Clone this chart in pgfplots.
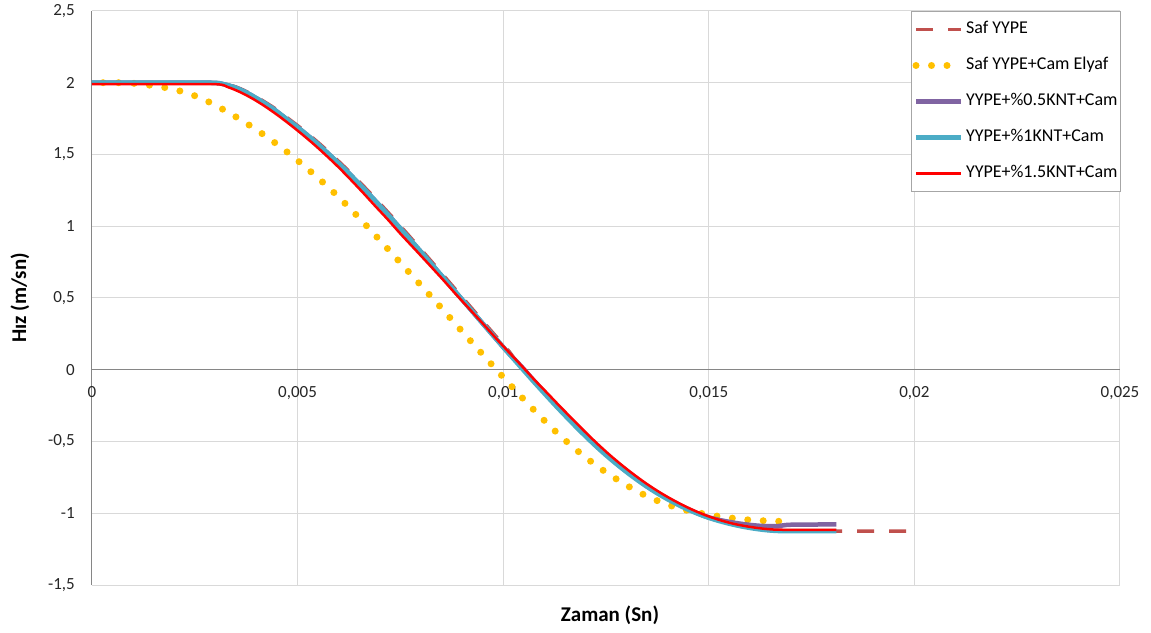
\documentclass[border=0pt]{standalone}
\usepackage{pgfplots}
\pgfplotsset{compat=1.18}
\usepackage{fontspec}
\setmainfont{Carlito}
\usetikzlibrary{calc}

\definecolor{cDash}{HTML}{C0504D}
\definecolor{cGold}{HTML}{FFC000}
\definecolor{cPurple}{HTML}{8064A2}
\definecolor{cBlue}{HTML}{4BACC6}
\definecolor{cRed}{HTML}{FF0000}
\definecolor{cGrid}{HTML}{D9D9D9}
\definecolor{cAxis}{HTML}{868686}
\definecolor{cFrame}{HTML}{A6A6A6}

% velocity (m/s) against time (s); the two broken-line series are listed
% from the last sample back to the first so that their pattern ends on a mark
\pgfplotstableread{
t v
0.0198 -1.125
0.0181 -1.125
0.0170 -1.125
0.0167 -1.124
0.0164 -1.118
0.0161 -1.107
0.0158 -1.092
0.0155 -1.073
0.0152 -1.05
0.0149 -1.022
0.0146 -0.988
0.0143 -0.948
0.0140 -0.903
0.0137 -0.853
0.0134 -0.797
0.0131 -0.735
0.0128 -0.668
0.0125 -0.596
0.0122 -0.518
0.0119 -0.435
0.0116 -0.348
0.0113 -0.258
0.0110 -0.165
0.0107 -0.07
0.0104 0.027
0.01015 0.125
0.00985 0.224
0.00955 0.323
0.00925 0.423
0.00895 0.523
0.00865 0.623
0.00835 0.723
0.00805 0.822
0.00775 0.92
0.00745 1.017
0.00715 1.112
0.00685 1.205
0.00655 1.295
0.00625 1.383
0.00595 1.465
0.00565 1.545
0.00535 1.62
0.00505 1.69
0.00475 1.755
0.00445 1.82
0.00415 1.875
0.00385 1.925
0.00355 1.965
0.00325 1.99
0.00295 2.0
0.0015 2.0
0 2.0
}\safyype

\pgfplotstableread{
t v
0.0167 -1.056
0.0164 -1.053
0.0160 -1.047
0.0156 -1.035
0.0152 -1.02
0.0148 -1.0
0.0144 -0.975
0.0140 -0.94
0.0136 -0.895
0.0132 -0.838
0.0128 -0.77
0.0124 -0.695
0.0120 -0.61
0.0116 -0.515
0.0112 -0.41
0.0108 -0.296
0.0104 -0.176
0.0100 -0.052
0.0096 0.075
0.0092 0.203
0.0088 0.332
0.0084 0.461
0.0080 0.588
0.0076 0.714
0.0072 0.84
0.0068 0.965
0.0064 1.087
0.0060 1.203
0.0056 1.31
0.0052 1.41
0.0048 1.505
0.0044 1.592
0.0040 1.672
0.0036 1.745
0.0032 1.812
0.0028 1.872
0.0024 1.92
0.0020 1.953
0.0016 1.975
0.0012 1.99
0.0008 2.0
0 2.0
}\safcam

\pgfplotstableread{
t v
0 2.0
0.0015 2.0
0.0029 2.0
0.0032 1.99
0.0035 1.965
0.0038 1.925
0.0041 1.875
0.0044 1.82
0.0047 1.755
0.0050 1.69
0.0053 1.62
0.0056 1.545
0.0059 1.465
0.0062 1.383
0.0065 1.295
0.0068 1.205
0.0071 1.112
0.0074 1.017
0.0077 0.92
0.0080 0.822
0.0083 0.723
0.0086 0.623
0.0089 0.523
0.0092 0.423
0.0095 0.323
0.0098 0.224
0.0101 0.125
0.01043 0.027
0.01073 -0.07
0.01103 -0.165
0.01133 -0.258
0.01163 -0.348
0.01193 -0.435
0.01223 -0.518
0.01253 -0.596
0.01283 -0.668
0.01313 -0.735
0.01343 -0.797
0.01373 -0.853
0.01403 -0.903
0.01433 -0.948
0.01463 -0.988
0.0149 -1.02
0.0152 -1.043
0.0155 -1.06
0.0158 -1.074
0.0161 -1.084
0.0164 -1.09
0.0167 -1.089
0.0170 -1.08
0.0181 -1.078
}\knthalf

\pgfplotstableread{
t v
0 2.0
0.0015 2.0
0.0029 2.0
0.0032 1.99
0.0035 1.965
0.0038 1.925
0.0041 1.875
0.0044 1.82
0.0047 1.755
0.0050 1.69
0.0053 1.62
0.0056 1.545
0.0059 1.465
0.0062 1.383
0.0065 1.295
0.0068 1.205
0.0071 1.112
0.0074 1.017
0.0077 0.92
0.0080 0.822
0.0083 0.723
0.0086 0.623
0.0089 0.523
0.0092 0.423
0.0095 0.323
0.0098 0.224
0.0101 0.125
0.0104 0.027
0.0107 -0.07
0.0110 -0.165
0.0113 -0.258
0.0116 -0.348
0.0119 -0.435
0.0122 -0.518
0.0125 -0.596
0.0128 -0.668
0.0131 -0.735
0.0134 -0.797
0.0137 -0.853
0.0140 -0.903
0.0143 -0.948
0.0146 -0.988
0.0149 -1.022
0.0152 -1.05
0.0155 -1.073
0.0158 -1.092
0.0161 -1.107
0.0164 -1.118
0.0167 -1.124
0.0170 -1.125
0.0181 -1.125
}\kntone

\pgfplotstableread{
t v
0 1.99
0.0015 1.99
0.0030 1.99
0.0033 1.97
0.0036 1.935
0.0039 1.89
0.0042 1.837
0.0045 1.777
0.0048 1.712
0.0051 1.643
0.0054 1.57
0.0057 1.492
0.0060 1.41
0.0063 1.322
0.0066 1.231
0.0069 1.137
0.0072 1.045
0.0075 0.948
0.00791 0.822
0.00823 0.723
0.00855 0.623
0.00886 0.523
0.00918 0.423
0.0095 0.323
0.00981 0.224
0.01013 0.125
0.01045 0.027
0.01076 -0.07
0.01108 -0.165
0.01139 -0.258
0.0117 -0.348
0.0120 -0.435
0.0123 -0.518
0.0126 -0.596
0.0129 -0.668
0.0132 -0.735
0.0135 -0.797
0.0138 -0.853
0.0141 -0.903
0.0144 -0.948
0.0147 -0.988
0.0150 -1.022
0.0153 -1.05
0.0156 -1.073
0.0159 -1.09
0.0162 -1.103
0.0165 -1.112
0.0168 -1.115
0.0181 -1.115
}\kntonehalf

\begin{document}
\begin{tikzpicture}
\begin{axis}[
  scale only axis,
  width=1028pt, height=574pt,
  xmin=0, xmax=0.025, ymin=-1.5, ymax=2.5,
  axis x line=middle, axis y line=left,
  axis line style={cAxis, line width=1pt, -},
  hide obscured x ticks=false, hide obscured y ticks=false,
  scaled x ticks=false,
  xtick={0,0.005,0.01,0.015,0.02,0.025},
  xticklabels={0,{0,005},{0,01},{0,015},{0,02},{0,025}},
  ytick={-1.5,-1,-0.5,0,0.5,1,1.5,2,2.5},
  yticklabels={{-1,5},-1,{-0,5},0,{0,5},1,{1,5},2,{2,5}},
  major tick length=0pt,
  grid=major,
  major grid style={cGrid, line width=1pt},
  tick label style={font=\fontsize{17}{20}\selectfont, text=black!85},
  xticklabel style={inner sep=0pt, anchor=north, yshift=-16.5pt},
  yticklabel style={inner sep=0pt, anchor=east, xshift=-17pt},
  xlabel={Zaman (Sn)},
  ylabel={Hız (m/sn)},
  every axis x label/.style={at={($(rel axis cs:0.5,0)+(4pt,-30pt)$)}, anchor=center,
    font=\bfseries\fontsize{21}{24}\selectfont},
  every axis y label/.style={at={($(rel axis cs:0,0.5)+(-72pt,0pt)$)}, anchor=center, rotate=90,
    font=\bfseries\fontsize{21}{24}\selectfont},
  no marks,
  legend cell align=left,
  legend image code/.code={\draw[#1] (2pt,0pt) -- (47pt,0pt);},
  legend style={at={(rel axis cs:0.7967,1)}, anchor=north west,
    draw=cFrame, line width=1pt, fill=white,
    font=\fontsize{18}{21}\selectfont,
    inner xsep=1pt, inner ysep=8pt, row sep=16pt,
    nodes={inner sep=1.5pt, text height=13pt, text depth=4pt}},
]
\coordinate (ll) at (rel axis cs:0,0);
\addplot[cDash, line width=3.5pt, dash pattern=on 17pt off 15pt, smooth] table[x=t,y=v] {\safyype};
\addlegendentry{Saf YYPE}
\addplot[cGold, line width=7pt, line cap=round, dash pattern=on 0pt off 15.5pt, smooth] table[x=t,y=v] {\safcam};
\addlegendentry{Saf YYPE+Cam Elyaf}
\addplot[cPurple, line width=4.5pt, smooth] table[x=t,y=v] {\knthalf};
\addlegendentry{YYPE+\%0.5KNT+Cam}
\addplot[cBlue, line width=4.5pt, smooth] table[x=t,y=v] {\kntone};
\addlegendentry{YYPE+\%1KNT+Cam}
\addplot[cRed, line width=2.5pt, smooth] table[x=t,y=v] {\kntonehalf};
\addlegendentry{YYPE+\%1.5KNT+Cam}
\end{axis}
\pgfresetboundingbox
\path (ll) ++(-92pt,-47pt) rectangle ++(1151pt,632pt);
\end{tikzpicture}
\end{document}
